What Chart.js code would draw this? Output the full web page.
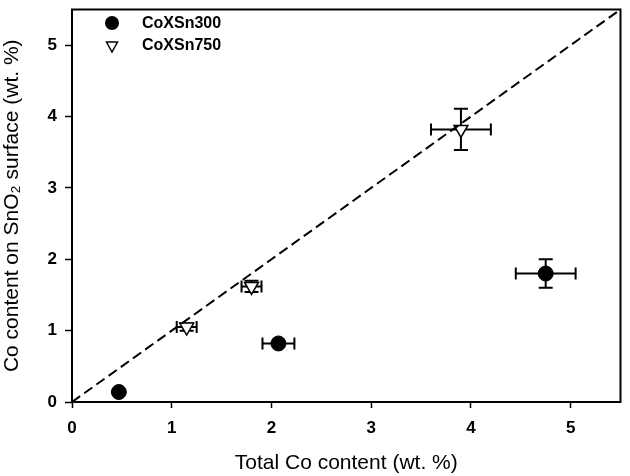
<!DOCTYPE html>
<html>
<head>
<meta charset="utf-8">
<script src="https://cdn.jsdelivr.net/npm/chart.js@4.4.1/dist/chart.umd.min.js"></script>
<style>
    body { margin: 0; background: #fff; }
    #wrap { width: 630px; height: 476px; }
</style>
</head>
<body>
<div id="wrap"><canvas id="coChart" width="630" height="476"></canvas></div>
<script>
// CoXSn300 samples
const sn300X = [0.47, 2.07, 4.75];
const sn300Y = [0.14, 0.82, 1.8];
const sn300XErr = [0, 0.16, 0.3];
const sn300YErr = [0, 0, 0.2];

// CoXSn750 samples
const sn750X = [1.15, 1.8, 3.9];
const sn750Y = [1.05, 1.62, 3.82];
const sn750XErr = [0.1, 0.1, 0.3];
const sn750YErr = [0.05, 0.08, 0.29];

// diagonal y = x
const diagX = [0, 5.5];
const axisTicks = [0, 1, 2, 3, 4, 5];

const FONT = '"Liberation Sans", Arial, sans-serif';

const toPoints = (xs, ys) => xs.map((x, i) => ({ x: x, y: ys[i] }));

// error bars drawn under the markers
const errorBars = {
    id: 'errorBars',
    beforeDatasetsDraw(chart) {
        const ctx = chart.ctx;
        const xs = chart.scales.x, ys = chart.scales.y;
        const sets = [
            [sn300X, sn300Y, sn300XErr, sn300YErr],
            [sn750X, sn750Y, sn750XErr, sn750YErr]
        ];
        ctx.save();
        ctx.strokeStyle = '#000';
        ctx.lineWidth = 2;
        sets.forEach(([px, py, ex, ey]) => {
            px.forEach((x, i) => {
                const cx = xs.getPixelForValue(x), cy = ys.getPixelForValue(py[i]);
                if (ex[i] > 0) {
                    const l = xs.getPixelForValue(x - ex[i]), r = xs.getPixelForValue(x + ex[i]);
                    ctx.beginPath();
                    ctx.moveTo(l, cy); ctx.lineTo(r, cy);
                    ctx.moveTo(l, cy - 6); ctx.lineTo(l, cy + 6);
                    ctx.moveTo(r, cy - 6); ctx.lineTo(r, cy + 6);
                    ctx.stroke();
                }
                if (ey[i] > 0) {
                    const t = ys.getPixelForValue(py[i] + ey[i]), b = ys.getPixelForValue(py[i] - ey[i]);
                    ctx.beginPath();
                    ctx.moveTo(cx, t); ctx.lineTo(cx, b);
                    ctx.moveTo(cx - 7, t); ctx.lineTo(cx + 7, t);
                    ctx.moveTo(cx - 7, b); ctx.lineTo(cx + 7, b);
                    ctx.stroke();
                }
            });
        });
        ctx.restore();
    }
};

// frame around the plot and the legend in the top-left corner
const frameAndLegend = {
    id: 'frameAndLegend',
    afterDraw(chart) {
        const ctx = chart.ctx;
        const a = chart.chartArea;
        ctx.save();
        ctx.strokeStyle = '#000';
        ctx.lineWidth = 2;
        ctx.strokeRect(a.left, a.top, a.right - a.left, a.bottom - a.top);

        ctx.font = 'bold 16px ' + FONT;
        ctx.fillStyle = '#000';
        ctx.textBaseline = 'middle';
        ctx.beginPath();
        ctx.arc(112, 23, 7, 0, Math.PI * 2);
        ctx.fill();
        ctx.fillText('CoXSn300', 142, 24);

        ctx.beginPath();
        ctx.moveTo(106.5, 42); ctx.lineTo(117.5, 42); ctx.lineTo(112, 52); ctx.closePath();
        ctx.lineWidth = 1.5;
        ctx.stroke();
        ctx.fillText('CoXSn750', 142, 46);
        ctx.restore();
    }
};

const keepIntegers = scale => {
    scale.ticks = axisTicks.map(v => ({ value: v }));
};

new Chart(document.getElementById('coChart').getContext('2d'), {
    type: 'scatter',
    data: {
        datasets: [
            {
                label: 'y = x',
                type: 'line',
                data: toPoints(diagX, diagX),
                borderColor: '#000',
                borderWidth: 2,
                borderDash: [10, 5],
                pointRadius: 0,
                fill: false
            },
            {
                label: 'CoXSn300',
                data: toPoints(sn300X, sn300Y),
                pointStyle: 'circle',
                pointRadius: 7.5,
                backgroundColor: '#000',
                borderColor: '#000',
                borderWidth: 1
            },
            {
                label: 'CoXSn750',
                data: toPoints(sn750X, sn750Y),
                pointStyle: 'triangle',
                rotation: 180,
                pointRadius: 8,
                backgroundColor: '#fff',
                borderColor: '#000',
                borderWidth: 1.5
            }
        ]
    },
    options: {
        responsive: false,
        animation: false,
        layout: { padding: { top: 2, right: 3, left: 0, bottom: 0 } },
        plugins: {
            legend: { display: false },
            tooltip: { enabled: false }
        },
        scales: {
            x: {
                type: 'linear',
                min: 0,
                max: 5.5,
                afterBuildTicks: keepIntegers,
                afterFit: s => { s.height = 74; s.paddingLeft = 0; s.paddingRight = 0; },
                grid: { drawOnChartArea: false, tickLength: 6, tickColor: '#000', tickWidth: 1.5 },
                border: { display: false },
                ticks: {
                    color: '#000',
                    padding: 10,
                    maxRotation: 0,
                    font: { family: FONT, size: 17, weight: 'bold' }
                },
                title: {
                    display: true,
                    text: 'Total Co content (wt. %)',
                    color: '#000',
                    padding: { top: 0, bottom: 0 },
                    font: { family: FONT, size: 21 }
                }
            },
            y: {
                type: 'linear',
                min: 0,
                max: 5.5,
                afterBuildTicks: keepIntegers,
                afterFit: s => { s.width = 72; s.paddingTop = 0; s.paddingBottom = 0; },
                grid: { drawOnChartArea: false, tickLength: 7, tickColor: '#000', tickWidth: 1.5 },
                border: { display: false },
                ticks: {
                    color: '#000',
                    padding: 8,
                    font: { family: FONT, size: 17, weight: 'bold' }
                },
                title: {
                    display: true,
                    text: 'Co content on SnO\u2082 surface (wt. %)',
                    color: '#000',
                    padding: { top: 0, bottom: 0 },
                    font: { family: FONT, size: 21 }
                }
            }
        }
    },
    plugins: [errorBars, frameAndLegend]
});
</script>
</body>
</html>
